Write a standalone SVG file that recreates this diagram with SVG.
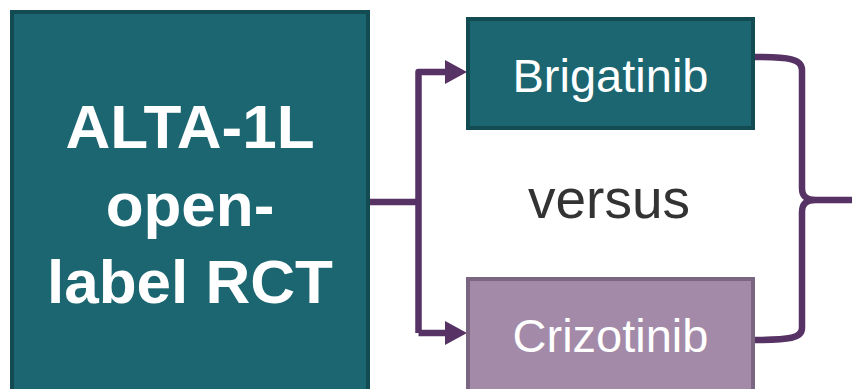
<svg xmlns="http://www.w3.org/2000/svg" width="852" height="389" viewBox="0 0 852 389">
<defs>
<style>
.teal{fill:#1b6670;stroke:#134b52;stroke-width:4}
.mauve{fill:#a38aa8;stroke:#7a6680;stroke-width:4}
.conn{fill:none;stroke:#573264;stroke-width:6.5;stroke-linejoin:round}
.lbl{font-family:"Liberation Sans",Arial,sans-serif;fill:#ffffff;text-anchor:middle}
</style>
<marker id="arr" markerUnits="userSpaceOnUse" markerWidth="24" markerHeight="26" refX="0" refY="12" orient="auto" overflow="visible">
<path d="M0,0 L22,12 L0,24 Z" fill="#573264"/>
</marker>
</defs>
<rect width="852" height="389" fill="#ffffff"/>
<g id="connectors">
<path class="conn" d="M368,202 L418.5,202"/>
<path class="conn" d="M418.5,333 L418.5,72 L445,72" marker-end="url(#arr)"/>
<path class="conn" d="M418.5,333 L445,333" marker-end="url(#arr)"/>
<path class="conn" d="M753,57 C790,57 802,59 802,70 L802,188 C802,196 806,200 816,200 L852,200 M753,340 C790,340 802,338 802,328 L802,212 C802,204 806,200 816,200"/>
</g>
<g id="alta">
<rect class="teal" x="12" y="12" width="356" height="400"/>
<text class="lbl" font-weight="bold" font-size="62" x="190" y="148">ALTA-1L</text>
<text class="lbl" font-weight="bold" font-size="62" x="190" y="226">open-</text>
<text class="lbl" font-weight="bold" font-size="62" x="190" y="303">label RCT</text>
</g>
<g id="brigatinib">
<rect class="teal" x="468" y="19" width="285" height="109"/>
<text class="lbl" font-size="47" x="610.5" y="92">Brigatinib</text>
</g>
<g id="crizotinib">
<rect class="mauve" x="468" y="279" width="285" height="130"/>
<text class="lbl" font-size="47" x="610.5" y="352">Crizotinib</text>
</g>
<g id="versus">
<text font-family="'Liberation Sans',Arial,sans-serif" font-size="55" fill="#333333" text-anchor="middle" x="609" y="218">versus</text>
</g>
</svg>
